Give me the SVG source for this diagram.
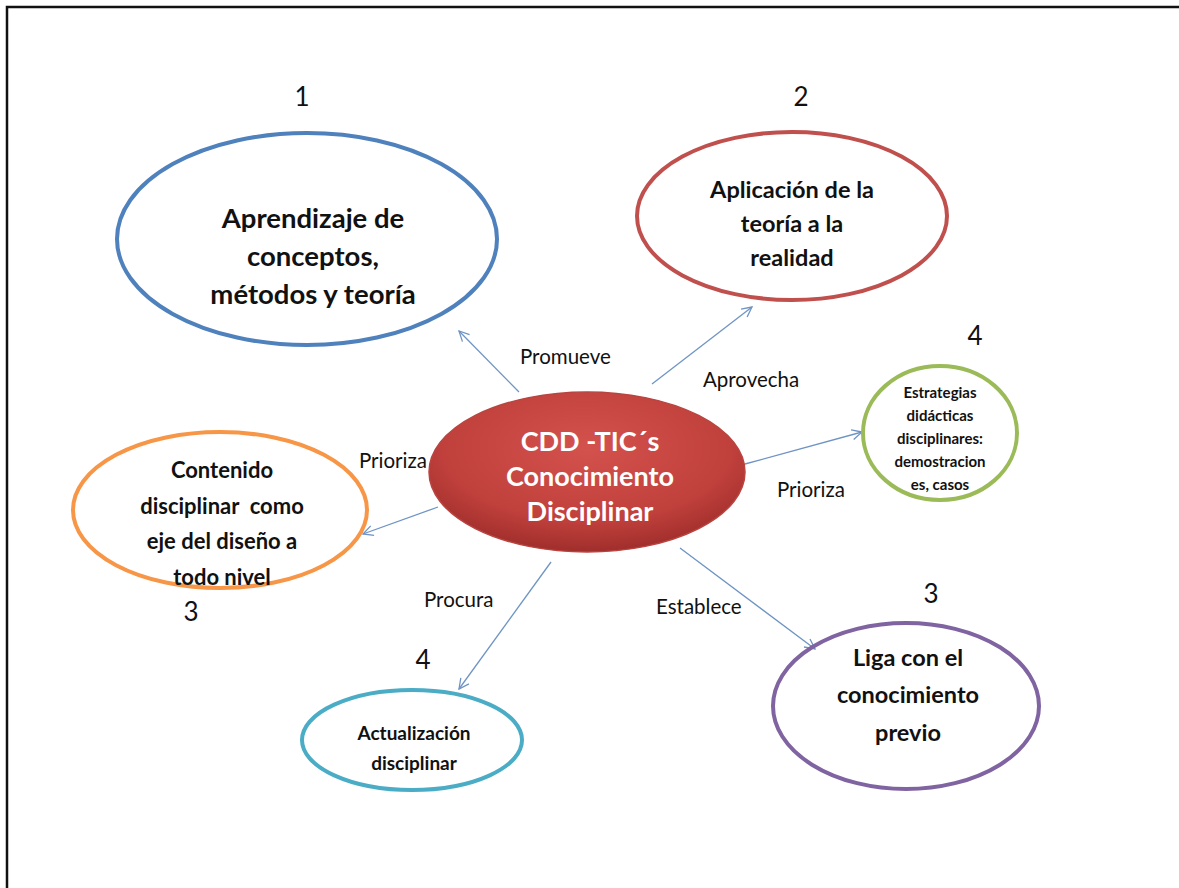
<svg xmlns="http://www.w3.org/2000/svg" width="1179" height="888" viewBox="0 0 1179 888">
<defs>
<radialGradient id="redfill" cx="50%" cy="35%" r="65%">
<stop offset="0" stop-color="#d4524e"/>
<stop offset="0.7" stop-color="#c0403c"/>
<stop offset="1" stop-color="#a02e2b"/>
</radialGradient>
<marker id="arr" viewBox="0 0 12 12" refX="11" refY="6" markerWidth="12" markerHeight="12" markerUnits="userSpaceOnUse" orient="auto">
<path d="M1,1 L11,6 L1,11" fill="none" stroke="#6f94c4" stroke-width="1.3"/>
</marker>
</defs>
<style>
.node{fill:none;stroke-width:4}
.t{font-family:Lato,"Open Sans","Liberation Sans",sans-serif;font-weight:bold;text-anchor:middle;fill:#111}
.w{font-family:Lato,"Open Sans","Liberation Sans",sans-serif;font-weight:bold;text-anchor:middle;fill:#ffffff}
.n{font-family:Lato,"Open Sans","Liberation Sans",sans-serif;font-size:26px;text-anchor:middle;fill:#111}
.l{font-family:Lato,"Open Sans","Liberation Sans",sans-serif;font-size:20.5px;fill:#111}
.c{fill:none;stroke:#6f94c4;stroke-width:1.3;marker-end:url(#arr)}
</style>
<rect width="1179" height="888" fill="#ffffff"/>
<path d="M7,888 L7,7 L1179,7" fill="none" stroke="#111" stroke-width="2.5"/>

<g id="connectors">
<line class="c" x1="519" y1="392" x2="459" y2="331"/>
<line class="c" x1="652" y1="384" x2="752" y2="307"/>
<line class="c" x1="745" y1="464" x2="862" y2="432"/>
<line class="c" x1="438" y1="507" x2="363" y2="534"/>
<line class="c" x1="551" y1="562" x2="459" y2="689"/>
<line class="c" x1="680" y1="548" x2="815" y2="649"/>
<text class="l" x="520" y="364">Promueve</text>
<text class="l" x="703" y="387">Aprovecha</text>
<text class="l" x="359" y="468">Prioriza</text>
<text class="l" x="777" y="497">Prioriza</text>
<text class="l" x="424" y="607">Procura</text>
<text class="l" x="656" y="614">Establece</text>
</g>

<g id="n1">
<ellipse class="node" cx="307" cy="239" rx="190" ry="106" stroke="#4f81bd"/>
<text class="n" x="302" y="106">1</text>
<text class="t" font-size="27.5"><tspan x="313" y="228">Aprendizaje de</tspan><tspan x="313" y="266">conceptos,</tspan><tspan x="313" y="304">métodos y teoría</tspan></text>
</g>

<g id="n2">
<ellipse class="node" cx="792" cy="216" rx="155" ry="84" stroke="#c0504d"/>
<text class="n" x="801" y="106">2</text>
<text class="t" font-size="23.5"><tspan x="792" y="198">Aplicación de la</tspan><tspan x="792" y="232">teoría a la</tspan><tspan x="792" y="266">realidad</tspan></text>
</g>

<g id="center">
<ellipse cx="587" cy="472" rx="158" ry="80" fill="url(#redfill)" stroke="#b84440" stroke-width="1.5"/>
<text class="w" font-size="27"><tspan x="590" y="451">CDD -TIC´s</tspan><tspan x="590" y="486">Conocimiento</tspan><tspan x="590" y="521">Disciplinar</tspan></text>
</g>

<g id="n4a">
<ellipse class="node" cx="940" cy="433" rx="77" ry="67" stroke="#9bbb59"/>
<text class="n" x="975" y="345">4</text>
<text class="t" font-size="15"><tspan x="940" y="398">Estrategias</tspan><tspan x="940" y="421">didácticas</tspan><tspan x="940" y="444">disciplinares:</tspan><tspan x="940" y="467">demostracion</tspan><tspan x="940" y="490">es, casos</tspan></text>
</g>

<g id="n3a">
<ellipse class="node" cx="220" cy="510" rx="147" ry="78" stroke="#f79646"/>
<text class="n" x="191" y="621">3</text>
<text class="t" font-size="22" xml:space="preserve"><tspan x="222" y="478">Contenido</tspan><tspan x="222" y="514">disciplinar  como</tspan><tspan x="222" y="549">eje del diseño a</tspan><tspan x="222" y="585">todo nivel</tspan></text>
</g>

<g id="n4b">
<ellipse class="node" cx="412" cy="740" rx="110" ry="50" stroke="#4bacc6"/>
<text class="n" x="423" y="669">4</text>
<text class="t" font-size="19"><tspan x="414" y="740">Actualización</tspan><tspan x="414" y="770">disciplinar</tspan></text>
</g>

<g id="n3b">
<ellipse class="node" cx="906" cy="706" rx="133" ry="83" stroke="#8064a2"/>
<text class="n" x="931" y="603">3</text>
<text class="t" font-size="23.5"><tspan x="908" y="666">Liga con el</tspan><tspan x="908" y="703">conocimiento</tspan><tspan x="908" y="741">previo</tspan></text>
</g>
</svg>
